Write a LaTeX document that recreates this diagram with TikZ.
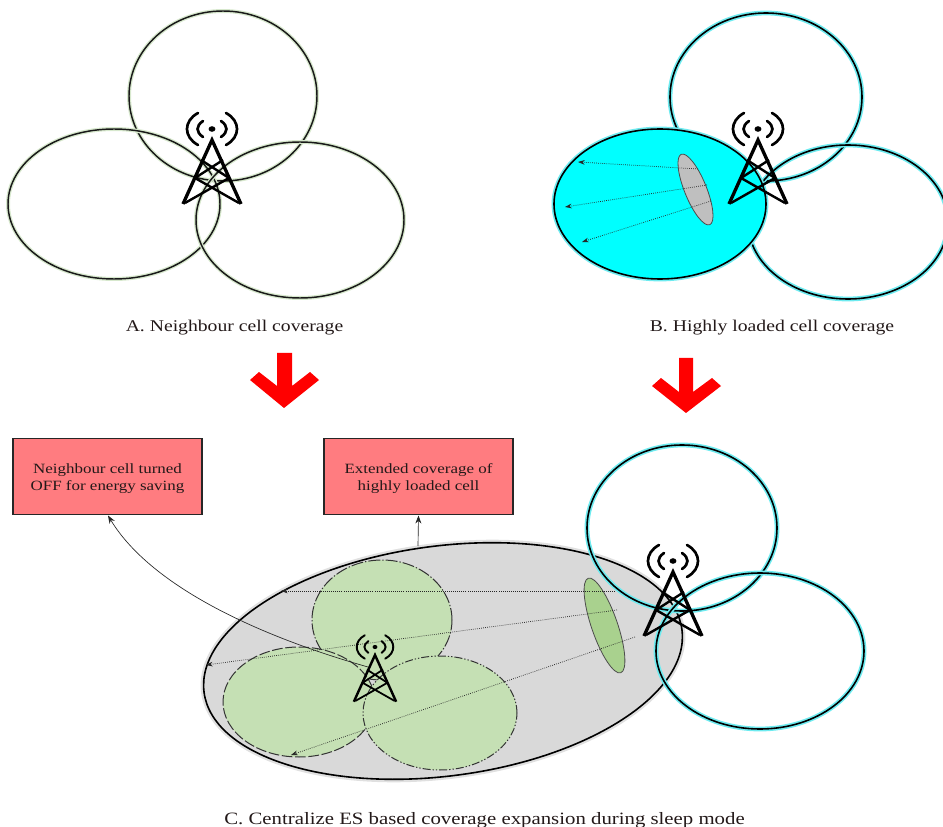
\documentclass[tikz,border=0pt]{standalone}
\usepackage{fontspec}
\setmainfont{Liberation Serif}[FakeStretch=1.2]
\usetikzlibrary{shapes.geometric,arrows.meta}
\def\U{0.75pt}
\definecolor{sleepgreen}{RGB}{197,224,180}
\definecolor{boxred}{RGB}{255,124,128}
\definecolor{cellcyan}{RGB}{0,255,255}
\definecolor{glowcyan}{RGB}{110,235,240}
\definecolor{glowgreen}{RGB}{215,232,205}
\definecolor{leafgreen}{RGB}{169,209,142}
\definecolor{bigfill}{RGB}{217,217,217}
\definecolor{smallgray}{RGB}{191,191,191}
\definecolor{inkdark}{RGB}{35,25,25}
\tikzset{
  lobe/.style n args={2}{ellipse,inner sep=0pt,outer sep=0pt,minimum width=#1*2*\U,minimum height=#2*2*\U},
  greencell/.style={draw=black!90,line width=1.1pt,preaction={draw=glowgreen,line width=3pt}},
  cyancell/.style={draw=black,line width=1.2pt,preaction={draw=glowcyan,line width=3.6pt}},
  bigcell/.style={fill=bigfill,draw=black,line width=1.2pt,preaction={draw=black!12,line width=4.5pt}},
  sleepcell/.style={fill=sleepgreen,draw=black!80,line width=0.75pt},
  beam/.style={densely dotted,line width=0.55pt,black!85,-{Stealth[length=5pt,width=3.5pt]}},
  linkarrow/.style={line width=0.5pt,black!85,-{Stealth[length=6pt,width=4.5pt]}},
  redbox/.style={draw=black!85,line width=1.1pt,fill=boxred,text=inkdark,minimum width=141.5pt,minimum height=57pt,align=center,font=\fontsize{10.6}{12.75}\selectfont,inner sep=0pt},
  caption/.style={font=\fontsize{12.3}{14}\selectfont,inner sep=0pt,text=inkdark},
  pics/tower/.style={code={
    \draw[line width=#1*2.5pt,line join=miter,black] (-29,64) -- (0,0) -- (29,64);
    \draw[line width=#1*1.8pt,black] (-11,20)--(17,38) (11,20)--(-17,38) (17,38)--(-27,63) (-17,38)--(27,63);
    \fill[black] (0,-11) ellipse (3.4 and 2.8);
    \draw[line width=#1*2pt,line cap=round,black]
      (9,-19) .. controls (16.3,-14) and (16.3,-8) .. (9,-3)
      (-9,-19) .. controls (-16.3,-14) and (-16.3,-8) .. (-9,-3)
      (14,-27) .. controls (28.7,-19) and (28.7,-3) .. (14,5)
      (-14,-27) .. controls (-28.7,-19) and (-28.7,-3) .. (-14,5);
  }}
}
\begin{document}
\begin{tikzpicture}[x=0.75pt,y=-0.75pt]
\useasboundingbox (0,0) rectangle (943,827);
% A
\node[lobe={94}{85},greencell] (a1) at (223,96) {};
\node[lobe={106}{75},greencell] (a2) at (114,204) {};
\node[lobe={104}{78},greencell] (a3) at (300,220) {};
\pic at (212,140) {tower=1};
\node[caption] (capa) at (234.5,328) {A. Neighbour cell coverage};
% B
\node[lobe={96}{84},cyancell] (b1) at (766,97) {};
\node[lobe={100}{77},cyancell] (b3) at (848,222) {};
\node[lobe={106}{75},cyancell,fill=cellcyan] (b2) at (660,204) {};
\node[lobe={38}{11},rotate=-68,fill=smallgray,draw=black!70,line width=0.6pt] (b4) at (695.5,189.5) {};
\coordinate (bs1) at (698,169); \coordinate (be1) at (578,162);
\coordinate (bs2) at (707,185); \coordinate (be2) at (565,207);
\coordinate (bs3) at (711,201); \coordinate (be3) at (582,242);
\draw[beam] (bs1) -- (be1);
\draw[beam] (bs2) -- (be2);
\draw[beam] (bs3) -- (be3);
\pic at (758,140) {tower=1};
\node[caption] (capb) at (772,328) {B. Highly loaded cell coverage};
% red arrows
\fill[red] (277,353) -- (292,353) -- (292,386) -- (310,372) -- (319,380) -- (284,408) -- (250,380) -- (259,372) -- (277,386) -- cycle;
\fill[red] (679,358) -- (693,358) -- (693,392) -- (712,378) -- (721,386) -- (686,413) -- (652,386) -- (661,378) -- (679,392) -- cycle;
% boxes
\node[redbox] (boxa) at (107.5,476.5) {\rule{0pt}{10.5pt}Neighbour cell turned\\OFF for energy saving};
\node[redbox] (boxb) at (418.5,476.5) {\rule{0pt}{10.5pt}Extended coverage of\\highly loaded cell};
% C
\node[lobe={241}{115},rotate=7.5,bigcell] (c0) at (443,661) {};
\node[lobe={70}{60},sleepcell,dash pattern=on 9pt off 1.5pt on 1pt off 1.5pt] (c1) at (382,620) {};
\node[lobe={76}{55},sleepcell,dash pattern=on 8pt off 2pt] (c2) at (299,702) {};
\node[lobe={77}{57},sleepcell,dash pattern=on 6pt off 1.5pt on 1pt off 1.5pt on 1pt off 1.5pt] (c3) at (440,713) {};
\node[lobe={95}{83},cyancell] (c4) at (682,528) {};
\node[lobe={104}{78},cyancell] (c5) at (760,651) {};
\node[lobe={50}{13},rotate=-71,fill=leafgreen,draw=black!70,line width=0.6pt] (c6) at (604.5,625.5) {};
\coordinate (cs1) at (615,591); \coordinate (ce1) at (281,591);
\coordinate (cs2) at (617,610); \coordinate (ce2) at (206,665);
\coordinate (cs3) at (635,637); \coordinate (ce3) at (291,755);
\draw[beam] (cs1) -- (ce1);
\draw[beam] (cs2) -- (ce2);
\draw[beam] (cs3) -- (ce3);
\pic[scale=0.73] at (375,655) {tower=0.73};
\pic at (673,572) {tower=1};
\coordinate (ls) at (368,667); \coordinate (lb) at (108,515.5);
\draw[linkarrow] (ls) .. controls (255,635) and (150,585) .. (lb);
\coordinate (lt) at (418,546); \coordinate (lu) at (418.5,515.5);
\draw[linkarrow] (lt) -- (lu);
\node[caption,font=\fontsize{13}{15}\selectfont] (capc) at (484.5,820) {C. Centralize ES based coverage expansion during sleep mode};
\end{tikzpicture}
\end{document}
